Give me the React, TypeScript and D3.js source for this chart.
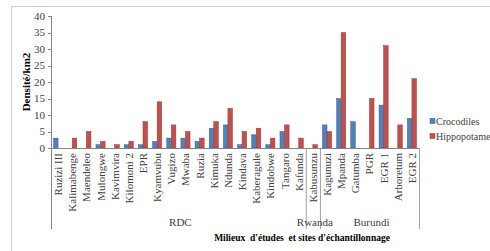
import React from 'react'
import * as d3 from 'd3'

const sites = ['Ruzizi III', 'Kalimabenge', 'Maendeleo', 'Mulongwe', 'Kavimvira', 'Kilomoni 2', 'EPR', 'Kyamvubu', 'Vugizo', 'Mwaba', 'Ruzia', 'Kimuka', 'Ndunda', 'Kindava', 'Kaberagule', 'Kindobwe', 'Tangaro', 'Kafunda', 'Kabusunzu', 'Kagunuzi', 'Mpanda', 'Gatumba', 'PGR', 'EGR 1', 'Arboretum', 'EGR 2']
const crocodiles = [3, 0, 0, 1, 0, 1, 1, 2, 3, 3, 2, 6, 7, 1, 4, 1, 5, 0, 0, 7, 15, 8, 0, 13, 0, 9]
const hippopotames = [0, 3, 5, 2, 1, 2, 8, 14, 7, 5, 3, 8, 12, 5, 6, 3, 7, 3, 1, 5, 35, 0, 15, 31, 7, 21]
const groups = [
  { name: 'RDC', from: 0, to: 17 },
  { name: 'Rwanda', from: 18, to: 18 },
  { name: 'Burundi', from: 19, to: 25 },
]
const seriesNames = ['Crocodiles', 'Hippopotame']
const colors = ['#4F81BD', '#C0504D']
const strokes = ['#3A6496', '#943C3A']
const yTicks = [0, 5, 10, 15, 20, 25, 30, 35, 40]

const left = 51, right = 419, top = 16, bottom = 148
const font = 'Liberation Serif'
const axisColor = '#868686'

export default function App() {
  const x0 = d3.scaleBand().domain(sites).range([left, right]).padding(0)
  const x1 = d3.scaleBand().domain(seriesNames).range([0, x0.bandwidth()]).paddingInner(0).paddingOuter(0.55)
  const y = d3.scaleLinear().domain([0, 40]).range([bottom, top])
  const series = [crocodiles, hippopotames]

  // boundaries between the country groups
  const bounds = [left, ...groups.map(g => x0(sites[g.to])! + x0.bandwidth())]
  const txt = { fontFamily: font }

  return (
    <svg width={490} height={251} style={{ position: 'absolute', left: 0, top: 0 }}>
      <rect x={0} y={0} width={490} height={251} fill="#fff" />
      <rect x={11.5} y={6.5} width={500} height={300} fill="none" stroke="#D0D0D0" />

      {/* bars */}
      {series.map((vals, si) =>
        sites.map((s, i) => vals[i] > 0 ? (
          <rect key={`${si}-${i}`}
            x={x0(s)! + x1(seriesNames[si])!}
            y={y(vals[i])}
            width={x1.bandwidth()}
            height={y(0) - y(vals[i])}
            fill={colors[si]} stroke={strokes[si]} strokeWidth={0.5} />
        ) : null)
      )}

      {/* y axis */}
      <line x1={left + 0.5} x2={left + 0.5} y1={top} y2={229} stroke={axisColor} />
      {yTicks.map(t => (
        <g key={t}>
          <line x1={left - 3} x2={left} y1={Math.round(y(t)) + 0.5} y2={Math.round(y(t)) + 0.5} stroke={axisColor} />
          <text x={left - 6} y={y(t)} dy="0.35em" textAnchor="end" fontSize={11} fill="#404040" style={txt}>{t}</text>
        </g>
      ))}

      {/* x axis */}
      <line x1={left} x2={right} y1={bottom + 0.5} y2={bottom + 0.5} stroke={axisColor} />
      {bounds.map((b, i) => (
        <line key={i} x1={b + 0.5} x2={b + 0.5} y1={bottom} y2={229} stroke={axisColor} strokeWidth={0.8} />
      ))}
      {sites.map(s => (
        <text key={s} transform={`translate(${x0(s)! + x0.bandwidth() / 2 + 4},153) rotate(-90)`}
          textAnchor="end" fontSize={11} fill="#404040" style={txt}>{s}</text>
      ))}
      {groups.map(g => (
        <text key={g.name} x={(x0(sites[g.from])! + x0(sites[g.to])! + x0.bandwidth()) / 2 + 2} y={226}
          textAnchor="middle" fontSize={11} fill="#404040" style={txt}>{g.name}</text>
      ))}

      {/* titles */}
      <text x={302} y={241} textAnchor="middle" fontSize={9.5} fontWeight="bold" fill="#000" style={{ ...txt, whiteSpace: 'pre' }}>
        {"Milieux  d'études  et sites d'échantillonnage"}
      </text>
      <text transform="translate(30,82) rotate(-90)" textAnchor="middle" fontSize={11} fontWeight="bold" fill="#000" style={txt}>Densité/km2</text>

      {/* legend */}
      {seriesNames.map((n, i) => (
        <g key={n} transform={`translate(430,${121 + i * 15})`}>
          <rect x={0} y={-2.5} width={5} height={5} fill={colors[i]} stroke={strokes[i]} strokeWidth={0.5} />
          <text x={6} y={0} dy="0.35em" fontSize={10} fill="#404040" style={txt}>{n}</text>
        </g>
      ))}
    </svg>
  )
}
